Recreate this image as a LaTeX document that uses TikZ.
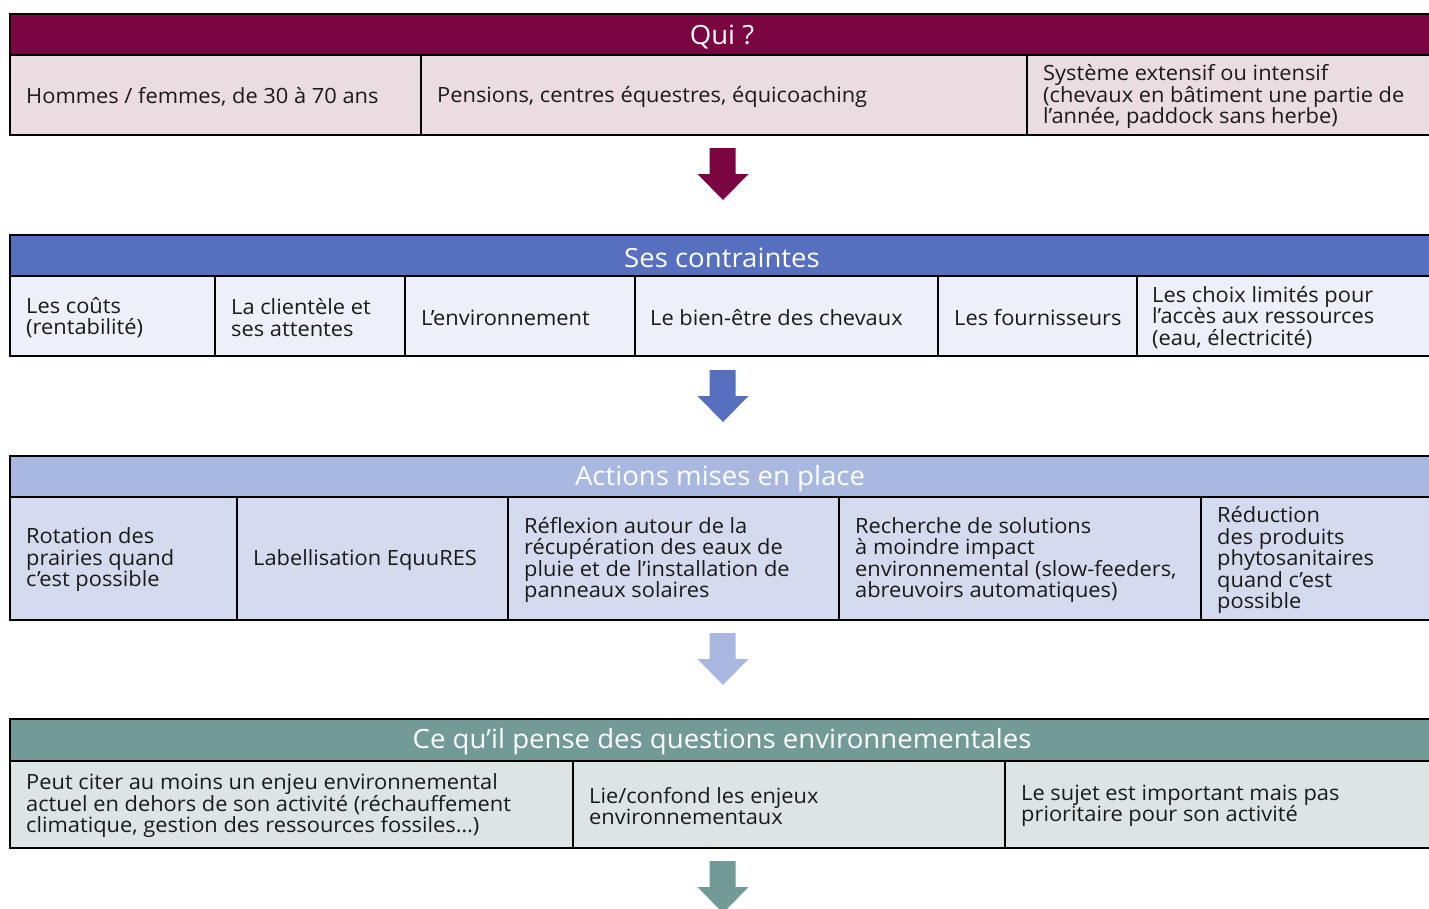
\documentclass[tikz,border=0pt]{standalone}
\usepackage{fontspec}
\setmainfont{Open Sans}
\newfontfamily\bodyfam[FakeStretch=1.04]{Open Sans}
\newfontfamily\hdrfam[FakeStretch=1.04]{Open Sans}
\definecolor{quiD}{HTML}{7A0540}
\definecolor{quiL}{HTML}{EADCE0}
\definecolor{sesD}{HTML}{5670BF}
\definecolor{sesL}{HTML}{EEF0F9}
\definecolor{actD}{HTML}{A9B8E1}
\definecolor{actL}{HTML}{D5DBEF}
\definecolor{ceD}{HTML}{729A96}
\definecolor{ceL}{HTML}{DDE5E4}
\definecolor{ink}{HTML}{1A1A1A}
\newcommand{\bodyfnt}{\bodyfam\fontsize{21}{21.5}\selectfont}
\newcommand{\hdrfnt}{\hdrfam\fontsize{26.5}{28}\selectfont}
\begin{document}
\begin{tikzpicture}[x=1pt,y=-1pt,
  hdr/.style={draw=black, line width=2pt, anchor=north west, minimum height=41, inner sep=0},
  hdrtext/.style={text=white, font=\hdrfnt, inner sep=0},
  cellbox/.style={draw=black, line width=2pt, anchor=north west, inner sep=0},
  txt/.style={anchor=west, inner sep=0, align=left, font=\bodyfnt, text=ink}]
\clip (0,0) rectangle (1429,908);
\fill[white] (0,0) rectangle (1429,908);

% ---------- Section 1 ----------
\node[hdr, fill=quiD, minimum width=1427] (h1) at (9,13) {};
\node[hdrtext] (h1t) at (722,37) {Qui ?};
\node[cellbox, fill=quiL, minimum width=411, minimum height=80] (c11) at (9,54) {};
\node[cellbox, fill=quiL, minimum width=606, minimum height=80] (c12) at (420,54) {};
\node[cellbox, fill=quiL, minimum width=410, minimum height=80] (c13) at (1026,54) {};
\node[txt] (t11) at ([xshift=17,yshift=-1.5]c11.west) {Hommes / femmes, de 30 à 70 ans};
\node[txt] (t12) at ([xshift=17,yshift=-1.5]c12.west) {Pensions, centres équestres, équicoaching};
\node[txt] (t13) at ([xshift=17,yshift=-1.5]c13.west) {Système extensif ou intensif\\(chevaux en bâtiment une partie de\\l’année, paddock sans herbe)};

\coordinate (a1) at (722.5,148);
\fill[quiD] (a1) ++(-13,0) -- ++(26,0) -- ++(0,26) -- ++(13,0) -- ++(-25.5,26) -- ++(-25.5,-26) -- ++(12,0) -- cycle;

% ---------- Section 2 ----------
\node[hdr, fill=sesD, minimum width=1427] (h2) at (9,234) {};
\node[hdrtext] (h2t) at (722,258) {Ses contraintes};
\node[cellbox, fill=sesL, minimum width=205, minimum height=80] (c21) at (9,275) {};
\node[cellbox, fill=sesL, minimum width=190, minimum height=80] (c22) at (214,275) {};
\node[cellbox, fill=sesL, minimum width=230, minimum height=80] (c23) at (404,275) {};
\node[cellbox, fill=sesL, minimum width=303, minimum height=80] (c24) at (634,275) {};
\node[cellbox, fill=sesL, minimum width=199, minimum height=80] (c25) at (937,275) {};
\node[cellbox, fill=sesL, minimum width=300, minimum height=80] (c26) at (1136,275) {};
\node[txt] (t21) at ([xshift=17,yshift=-1.5]c21.west) {Les coûts\\(rentabilité)};
\node[txt] (t22) at ([xshift=17,yshift=-1.5]c22.west) {La clientèle et\\ses attentes};
\node[txt] (t23) at ([xshift=17,yshift=-1.5]c23.west) {L’environnement};
\node[txt] (t24) at ([xshift=16,yshift=-1.5]c24.west) {Le bien-être des chevaux};
\node[txt] (t25) at ([xshift=17,yshift=-1.5]c25.west) {Les fournisseurs};
\node[txt] (t26) at ([xshift=16,yshift=-1.5]c26.west) {Les choix limités pour\\l’accès aux ressources\\(eau, électricité)};

\coordinate (a2) at (722.5,370);
\fill[sesD] (a2) ++(-13,0) -- ++(26,0) -- ++(0,26) -- ++(13,0) -- ++(-25.5,26) -- ++(-25.5,-26) -- ++(12,0) -- cycle;

% ---------- Section 3 ----------
\node[hdr, fill=actD, minimum width=1427] (h3) at (9,455) {};
\node[hdrtext] (h3t) at (720,479) {Actions mises en place};
\node[cellbox, fill=actL, minimum width=227, minimum height=123] (c31) at (9,496) {};
\node[cellbox, fill=actL, minimum width=271, minimum height=123] (c32) at (236,496) {};
\node[cellbox, fill=actL, minimum width=331, minimum height=123] (c33) at (507,496) {};
\node[cellbox, fill=actL, minimum width=362, minimum height=123] (c34) at (838,496) {};
\node[cellbox, fill=actL, minimum width=236, minimum height=123] (c35) at (1200,496) {};
\node[txt] (t31) at ([xshift=17,yshift=-1.5]c31.west) {Rotation des\\prairies quand\\c’est possible};
\node[txt] (t32) at ([xshift=17,yshift=-1.5]c32.west) {Labellisation EquuRES};
\node[txt] (t33) at ([xshift=17,yshift=-1.5]c33.west) {Réflexion autour de la\\récupération des eaux de\\pluie et de l’installation de\\panneaux solaires};
\node[txt] (t34) at ([xshift=17,yshift=-1.5]c34.west) {Recherche de solutions\\à moindre impact\\environnemental (slow-feeders,\\abreuvoirs automatiques)};
\node[txt] (t35) at ([xshift=17,yshift=-1.5]c35.west) {Réduction\\des produits\\phytosanitaires\\quand c’est\\possible};

\coordinate (a3) at (722.5,633);
\fill[actD] (a3) ++(-13,0) -- ++(26,0) -- ++(0,26) -- ++(13,0) -- ++(-25.5,26) -- ++(-25.5,-26) -- ++(12,0) -- cycle;

% ---------- Section 4 ----------
\node[hdr, fill=ceD, minimum width=1427, minimum height=42] (h4) at (9,718) {};
\node[hdrtext] (h4t) at (722,742) {Ce qu’il pense des questions environnementales};
\node[cellbox, fill=ceL, minimum width=563, minimum height=87] (c41) at (9,760) {};
\node[cellbox, fill=ceL, minimum width=432, minimum height=87] (c42) at (572,760) {};
\node[cellbox, fill=ceL, minimum width=432, minimum height=87] (c43) at (1004,760) {};
\node[txt] (t41) at ([xshift=17,yshift=-1.5]c41.west) {Peut citer au moins un enjeu environnemental\\actuel en dehors de son activité (réchauffement\\climatique, gestion des ressources fossiles…)};
\node[txt] (t42) at ([xshift=17,yshift=-1.5]c42.west) {Lie/confond les enjeux\\environnementaux};
\node[txt] (t43) at ([xshift=17,yshift=-1.5]c43.west) {Le sujet est important mais pas\\prioritaire pour son activité};

\coordinate (a4) at (722.5,861);
\fill[ceD] (a4) ++(-13,0) -- ++(26,0) -- ++(0,26) -- ++(13,0) -- ++(-25.5,26) -- ++(-25.5,-26) -- ++(12,0) -- cycle;
\end{tikzpicture}
\end{document}
